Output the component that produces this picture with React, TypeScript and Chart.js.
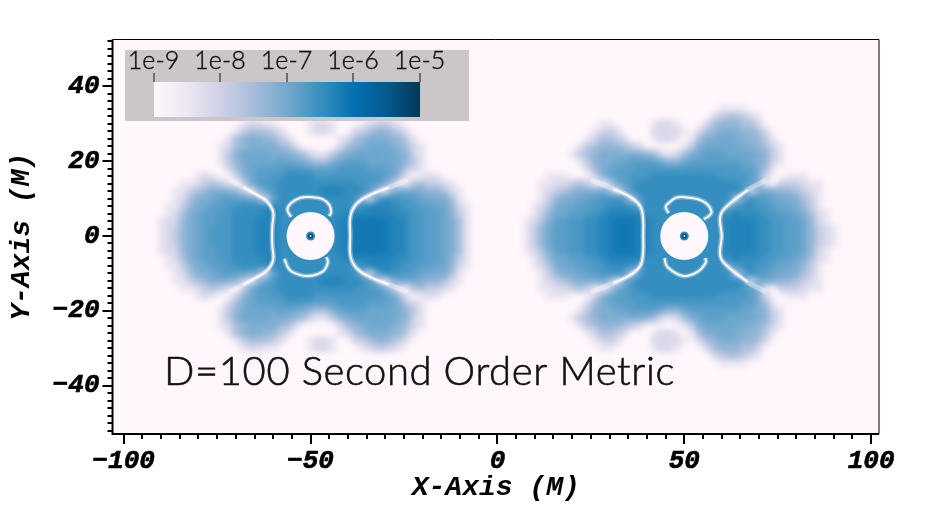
import React, { useEffect, useRef } from "react";
import { Chart, registerables } from "chart.js";

Chart.register(...registerables);

// log10 density, in quarter decades above 1e-9 (hex digit per cell, 2M cells)
const rowY = [0, 2, 4, 6, 8, 10, 12, 14, 16, 18, 20, 22, 24, 26, 28, 30, 32, 34];
const leftFirstX = -92;
const rightFirstX = 8;
const leftRows = [
  "0123567899 9aaabbbaaa aaaaabbccc ccbba99887 641",
  "0123567899 9aaabbbaaa aaaaabbccc ccbba99887 641",
  "0122567889 9aaabbbaaa aaaaabbccc ccbba99887 641",
  "0012467889 9aaaabbaaa aaaaaabbbb bbbaa99887 531",
  "0011356788 99aaaaaaaa aaaaaaa8ab bbaa998877 521",
  "0001246678 8887527aaa aaaaaaaa52 8aa9987766 410",
  "0001134566 6531479aaa aaabbbaaa8 4157776554 210",
  "0000112343 2026899aaa aaaaaaaa99 8630144332 100",
  "0000001210 02578899aa aa99999999 9874101210 000",
  "0000000000 2467888899 9888899998 8876321000 000",
  "0000000001 3567777877 6544678887 7776531000 000",
  "0000000001 3577776665 4211356777 7776521000 000",
  "0000000001 2456666542 0000024567 7765421000 000",
  "0000000000 1456655320 0000012456 6655310000 000",
  "0000000000 0134443200 0122100234 5543100000 000",
  "0000000000 0012211000 0122100012 3321000000 000",
  "0000000000 0000000000 0000000000 0000000000 000",
  "0000000000 0000000000 0000000000 0000000000 000",
];
const rightRows = [
  "13578899aa bbcccbbaaa aaaaaaabbb baa9988753 210",
  "13578899aa bbcccbbaaa aaaaaaabbb baa9988753 210",
  "12468899aa bbcccbbaaa aaaaaaabbb baa9988752 100",
  "0135778899 abbbbbaaaa aaaaaaaaba aa99887642 100",
  "0124677889 9aaaa7aaaa aaaaaaa69a a998776531 000",
  "0013566788 99a838aaaa aaaaaaaa37 a987766431 000",
  "0012345666 75159aaaaa aaaaaaaaa9 2676554321 000",
  "0011223431 02689aaaaa aaaaaaaaa9 8510333211 000",
  "0001110002 5788999aaa aaaaaa9999 8620011100 000",
  "0000000024 6788899999 9999999998 8641000000 000",
  "0000000135 6677888875 5788888887 7652100000 000",
  "0000001345 6666665421 2467888777 7653100000 000",
  "0000000134 5554320000 0136777776 6542100000 000",
  "0000000012 4432000122 1014667766 5531000000 000",
  "0000000001 2320000222 2102456665 5420000000 000",
  "0000000000 1100000122 1000245554 4200000000 000",
  "0000000000 0000000000 0000023443 2100000000 000",
  "0000000000 0000000000 0000001111 0000000000 000",
];
// What each stored digit reads as on the colour bar (sixteenths of its length)
const levelToBar = [0, 2.2, 3.4, 4.6, 5.8, 6.8, 7.6, 8.2, 8.8, 9.4, 10.1, 10.8, 11.5];

// Zero-density curves and the excised regions
const curveLL = [[-72, 15.2], [-68, 13], [-64, 10.8], [-61.6, 9.2], [-60, 6.4], [-60.2, 3], [-60.3, 0]];
const curveLR = [[-24, 15], [-29, 13], [-34, 11], [-37.5, 8.8], [-39.3, 5.5], [-39.4, 0]];
const curveRL = [[25, 15], [31, 12.6], [35.6, 10.4], [38.3, 7.8], [39, 4], [39, 0]];
const curveRR = [[72, 15], [67, 12.3], [62.4, 8.8], [59.7, 5.6], [60, 0]];
const lensLT = [[-55.2, 5.1], [-56.2, 7], [-55.2, 8.8], [-52.7, 10.2], [-50.1, 10.4], [-46.9, 9.9], [-45, 8.3], [-44.5, 6.4], [-45, 5.3]];
const lensLB = [[-57, -6.1], [-56, -8.5], [-54.9, -9.6], [-51, -10.7], [-46.9, -9.6], [-45.4, -7.2], [-45.7, -5.6]];
const lensRT = [[45.8, 6.1], [45, 7.8], [45.8, 8.8], [47.7, 10.2], [49.8, 10.4], [53.5, 9.9], [56, 8.6], [57.3, 6.4], [56.5, 5.3], [55.2, 4.5]];
const lensRB = [[44.7, -5.9], [45.5, -8.3], [49.8, -10.7], [53.5, -9.6], [55.7, -7.2], [55.7, -5.9]];
const holes = [[-50, 0], [50, 0]];

const colorStops = ["#fff7fb", "#ece7f2", "#d0d1e6", "#a6bddb", "#74a9cf", "#3690c0", "#0570b0", "#045a8d", "#023858"];
const colorbarTicks = ["1e-9", "1e-8", "1e-7", "1e-6", "1e-5"];
const annotation = "D=100 Second Order Metric";
const xTitle = "X-Axis (M)";
const yTitle = "Y-Axis (M)";

const hex = (s: string) => [1, 3, 5].map((i) => parseInt(s.slice(i, i + 2), 16));
function colorAt(t: number) {
  const p = Math.min(0.9999, Math.max(0, t)) * (colorStops.length - 1);
  const i = Math.floor(p);
  const a = hex(colorStops[i]);
  const b = hex(colorStops[i + 1]);
  const c = a.map((v, k) => Math.round(v + (b[k] - v) * (p - i)));
  return `rgb(${c[0]},${c[1]},${c[2]})`;
}

function cells(rows: string[], firstX: number) {
  const out: { x: number; y: number; v: number }[] = [];
  rows.forEach((row, r) => {
    row.replace(/ /g, "").split("").forEach((ch, c) => {
      const level = parseInt(ch, 16);
      if (!level) return;
      const x = firstX + 2 * c;
      out.push({ x, y: rowY[r], v: level });
      if (rowY[r] !== 0) out.push({ x, y: -rowY[r], v: level });
    });
  });
  return out;
}

const pts = (a: number[][]) => a.map(([x, y]) => ({ x, y }));
const mirrored = (a: number[][]) => [...a, ...a.slice(0, -1).reverse().map(([x, y]) => [x, -y])];

const BG = colorStops[0];
const tickFont = { family: "'Liberation Mono'", size: 26, weight: "bold", style: "italic" } as const;
const titleFont = { family: "'Liberation Mono'", size: 28, weight: "bold", style: "italic" } as const;

const painter = {
  id: "painter",
  beforeDatasetsDraw(chart: any) {
    const { ctx, chartArea: a } = chart;
    ctx.save();
    ctx.fillStyle = BG;
    ctx.fillRect(a.left, a.top, a.right - a.left, a.bottom - a.top);
    ctx.restore();
  },
  afterDatasetDraw(chart: any, args: any) {
    if (args.index !== 0) return;
    const { ctx, chartArea: a, canvas } = chart;
    const off = document.createElement("canvas");
    off.width = canvas.width;
    off.height = canvas.height;
    off.getContext("2d")!.drawImage(canvas, 0, 0);
    ctx.save();
    ctx.beginPath();
    ctx.rect(a.left, a.top, a.right - a.left, a.bottom - a.top);
    ctx.clip();
    ctx.filter = "blur(3.4px)";
    ctx.drawImage(off, 0, 0);
    ctx.restore();
  },
  afterDatasetsDraw(chart: any) {
    const { ctx, chartArea: a, scales } = chart;
    ctx.save();
    // axis ticks
    ctx.strokeStyle = "#000";
    ctx.lineWidth = 2;
    ctx.beginPath();
    scales.x.ticks.forEach((t: any) => {
      const px = Math.round(scales.x.getPixelForValue(t.value));
      ctx.moveTo(px, a.bottom);
      ctx.lineTo(px, a.bottom + (t.value % 50 === 0 ? 10 : 5));
    });
    scales.y.ticks.forEach((t: any) => {
      const py = Math.round(scales.y.getPixelForValue(t.value));
      ctx.moveTo(a.left, py);
      ctx.lineTo(a.left - (t.value % 20 === 0 ? 10 : 5), py);
    });
    ctx.moveTo(a.left, a.top);
    ctx.lineTo(a.left, a.bottom);
    ctx.lineTo(a.right, a.bottom);
    ctx.stroke();
    ctx.lineWidth = 1;
    ctx.beginPath();
    ctx.moveTo(a.left, a.top);
    ctx.lineTo(a.right, a.top);
    ctx.lineTo(a.right, a.bottom);
    ctx.stroke();

    // colour bar panel
    ctx.fillStyle = "#cbc6c8";
    ctx.fillRect(125, 50, 344, 71);
    const g = ctx.createLinearGradient(154, 0, 420, 0);
    colorStops.forEach((c, i) => g.addColorStop(i / (colorStops.length - 1), c));
    ctx.fillStyle = g;
    ctx.fillRect(154, 82, 266, 35);
    ctx.fillStyle = "#111";
    ctx.strokeStyle = "#111";
    ctx.textAlign = "center";
    ctx.textBaseline = "alphabetic";
    ctx.font = "300 25px Lato";
    ctx.lineWidth = 0.4;
    colorbarTicks.forEach((s, i) => {
      const px = 153.5 + i * 66.5;
      ctx.fillRect(Math.round(px) - 0.5, 73, 1, 9);
      ctx.fillText(s, px, 69);
      ctx.strokeText(s, px, 69);
    });

    // annotation
    ctx.textAlign = "left";
    ctx.font = "300 40px Lato";
    (ctx as any).letterSpacing = "0.6px";
    ctx.lineWidth = 0.6;
    ctx.fillText(annotation, 164, 385);
    ctx.strokeText(annotation, 164, 385);
    ctx.restore();
  },
};

export default function App() {
  const ref = useRef<HTMLCanvasElement>(null);
  useEffect(() => {
    const sides = [curveLL, curveLR, curveRL, curveRR];
    const lenses = [lensLT, lensLB, lensRT, lensRB];
    const curveSets = (list: number[][][], width: number, color: string, order: number) =>
      list.map((c) => ({
        data: pts(c),
        showLine: true,
        tension: 0.4,
        borderColor: color,
        borderWidth: width,
        pointRadius: 0,
        order,
      }));
    const holeSet = (radius: number, color: string, order: number) => ({
      data: pts(holes),
      pointRadius: radius,
      pointBorderWidth: 0,
      pointBackgroundColor: color,
      order,
    });
    const chart = new Chart(ref.current!, {
      type: "scatter",
      data: {
        datasets: [
          {
            data: [...cells(leftRows, leftFirstX), ...cells(rightRows, rightFirstX)],
            pointStyle: "rect",
            pointRadius: 5.7,
            pointBorderWidth: 0,
            pointBackgroundColor: (c: any) => colorAt((levelToBar[c.raw?.v ?? 0] ?? 0) / 16),
            order: 10,
          },
          ...curveSets(sides.map(mirrored), 5, "rgba(255,247,251,0.4)", 8),
          ...curveSets(lenses, 5, "rgba(255,247,251,0.3)", 8),
          ...curveSets(sides.map((c) => mirrored(c.slice(1))), 2, "#fff7fb", 7),
          ...curveSets(lenses, 2, "#fff7fb", 7),
          holeSet(24, BG, 5),
          holeSet(4.5, "#2f8bbe", 4),
          holeSet(2.6, "#04466e", 3),
          holeSet(1, "#ffffff", 2),
        ] as any,
      },
      options: {
        animation: false,
        responsive: false,
        events: [],
        layout: { padding: { left: 0, top: 39.5, right: 49, bottom: 0 } },
        plugins: { legend: { display: false }, tooltip: { enabled: false } },
        scales: {
          x: {
            type: "linear",
            min: -103,
            max: 102.1,
            afterFit: (s: any) => { s.height = 83; },
            grid: { display: false, drawTicks: false, tickLength: 10 },
            border: { display: false },
            ticks: {
              stepSize: 5,
              includeBounds: false,
              autoSkip: false,
              maxRotation: 0,
              padding: 12,
              color: "#000",
              textStrokeColor: "#000",
              textStrokeWidth: 0.6,
              font: tickFont,
              callback: (v: any) => (v % 50 === 0 ? String(v).replace("-", "\u2212") : ""),
            },
            title: { display: true, text: xTitle, color: "#000", font: titleFont, padding: { top: 0, bottom: 12 } },
          },
          y: {
            type: "linear",
            min: -52.9,
            max: 52.5,
            afterFit: (s: any) => { s.width = 112.5; },
            grid: { display: false, drawTicks: false, tickLength: 10 },
            border: { display: false },
            ticks: {
              stepSize: 2,
              includeBounds: false,
              autoSkip: false,
              padding: 13,
              color: "#000",
              textStrokeColor: "#000",
              textStrokeWidth: 0.6,
              font: tickFont,
              callback: (v: any) => (v % 20 === 0 ? String(v).replace("-", "\u2212") : ""),
            },
            title: { display: true, text: yTitle, color: "#000", font: titleFont, padding: { top: 5, bottom: 0 } },
          },
        },
      },
      plugins: [painter],
    } as any);
    return () => chart.destroy();
  }, []);
  return (
    <div style={{ position: "fixed", left: 0, top: 0, width: 928, height: 517, background: "#fff" }}>
      <canvas ref={ref} width={928} height={517} style={{ display: "block" }} />
    </div>
  );
}
